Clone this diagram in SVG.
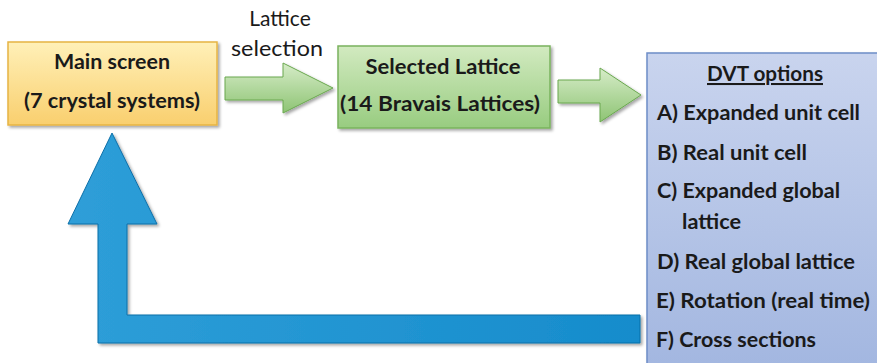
<svg xmlns="http://www.w3.org/2000/svg" width="877" height="363" viewBox="0 0 877 363">
<defs>
<linearGradient id="gy" x1="0" y1="0" x2="0" y2="1"><stop offset="0" stop-color="#fff0b8"/><stop offset="1" stop-color="#f9cf6e"/></linearGradient>
<linearGradient id="gg" x1="0" y1="0" x2="0" y2="1"><stop offset="0" stop-color="#d2eac0"/><stop offset="1" stop-color="#98cc80"/></linearGradient>
<linearGradient id="gb" x1="0" y1="0" x2="0" y2="1"><stop offset="0" stop-color="#c9d4ee"/><stop offset="1" stop-color="#a2b6e0"/></linearGradient>
<linearGradient id="ga" x1="0" y1="0" x2="0" y2="1"><stop offset="0" stop-color="#d6ecc8"/><stop offset="1" stop-color="#8ec474"/></linearGradient>
<linearGradient id="gblue" x1="0" y1="0" x2="1" y2="0"><stop offset="0" stop-color="#2e9ed8"/><stop offset="1" stop-color="#168ccc"/></linearGradient>
<filter id="sh" x="-10%" y="-10%" width="130%" height="130%"><feDropShadow dx="2" dy="2" stdDeviation="1.5" flood-color="#000" flood-opacity="0.35"/></filter>
</defs>
<style>
.t{font-family:Lato,"Liberation Sans",sans-serif;font-weight:bold;font-size:20.5px;fill:#1a1a1a}
.n{font-family:Lato,"Liberation Sans",sans-serif;font-size:21px;fill:#1a1a1a}
.c{text-anchor:middle}
</style>
<rect width="877" height="363" fill="#fff"/>
<g id="connectors">
<path id="arrow1" d="M225,77 H283 V63 L333,88 L283,113 V100 H225 Z" fill="url(#ga)" stroke="#6aa84f" stroke-width="1" filter="url(#sh)"/>
<path id="arrow2" d="M558,80 H600 V68 L641,95 L600,122 V103 H558 Z" fill="url(#ga)" stroke="#6aa84f" stroke-width="1" filter="url(#sh)"/>
<path id="arrow3" d="M640,315 H127 V224 H157 L112,133 L68,224 H98 V343 H640 Z" fill="url(#gblue)" stroke="#0d6fa8" stroke-width="1" filter="url(#sh)"/>
<text class="n c" x="280" y="26">Lattice</text>
<text class="n c" x="277" y="56" textLength="92" lengthAdjust="spacingAndGlyphs">selection</text>
</g>
<g id="main">
<rect x="8" y="42" width="209" height="83" fill="url(#gy)" stroke="#e6b443" stroke-width="1.5" filter="url(#sh)"/>
<text class="t c" x="112" y="69" textLength="116" lengthAdjust="spacingAndGlyphs">Main screen</text>
<text class="t c" x="112" y="108" textLength="176" lengthAdjust="spacingAndGlyphs">(7 crystal systems)</text>
</g>
<g id="selected">
<rect x="338" y="46" width="212" height="82" fill="url(#gg)" stroke="#79b35d" stroke-width="1.5" filter="url(#sh)"/>
<text class="t c" x="443" y="74" textLength="155" lengthAdjust="spacingAndGlyphs">Selected Lattice</text>
<text class="t c" x="440" y="111" textLength="200" lengthAdjust="spacingAndGlyphs">(14 Bravais Lattices)</text>
</g>
<g id="dvt">
<rect x="647" y="53" width="236" height="320" fill="url(#gb)" stroke="#6d8dc8" stroke-width="1.5" filter="url(#sh)"/>
<text class="t c" x="765" y="81" textLength="116" lengthAdjust="spacingAndGlyphs" text-decoration="underline">DVT options</text>
<text class="t" x="657" y="120" textLength="203" lengthAdjust="spacingAndGlyphs">A) Expanded unit cell</text>
<text class="t" x="657" y="160" textLength="150" lengthAdjust="spacingAndGlyphs">B) Real unit cell</text>
<text class="t" x="657" y="198" textLength="183" lengthAdjust="spacingAndGlyphs">C) Expanded global</text>
<text class="t" x="682" y="229" textLength="59" lengthAdjust="spacingAndGlyphs">lattice</text>
<text class="t" x="657" y="269" textLength="198" lengthAdjust="spacingAndGlyphs">D) Real global lattice</text>
<text class="t" x="656" y="308" textLength="214" lengthAdjust="spacingAndGlyphs">E) Rotation (real time)</text>
<text class="t" x="656" y="347" textLength="160" lengthAdjust="spacingAndGlyphs">F) Cross sections</text>
</g>
</svg>
